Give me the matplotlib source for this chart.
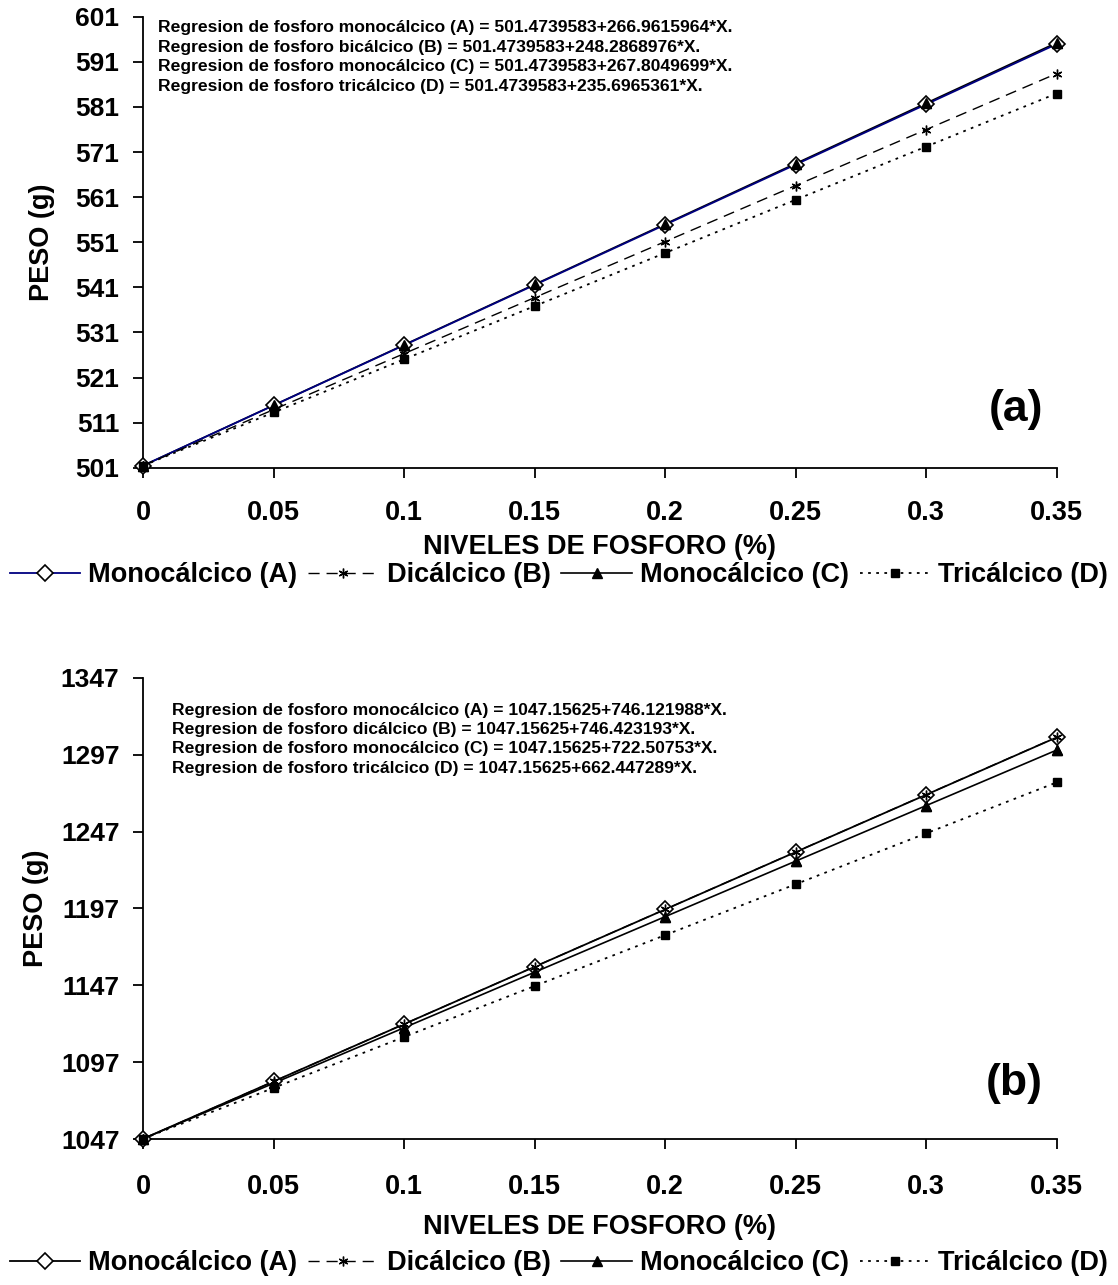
import matplotlib
matplotlib.use("Agg")
import matplotlib.pyplot as plt

plt.rcParams['font.family'] = ['Liberation Sans', 'DejaVu Sans']
plt.rcParams['font.weight'] = 'bold'

# niveles de fosforo (%)
niveles = [0, 0.05, 0.1, 0.15, 0.2, 0.25, 0.3, 0.35]
x_ticklabels = ["0", "0.05", "0.1", "0.15", "0.2", "0.25", "0.3", "0.35"]

# panel (a) - peso (g)
a_mono_A = [501.47, 514.82, 528.17, 541.52, 554.87, 568.21, 581.56, 594.91]
a_dical_B = [501.47, 513.89, 526.30, 538.72, 551.13, 563.55, 575.96, 588.38]
a_mono_C = [501.47, 514.86, 528.25, 541.64, 555.03, 568.43, 581.82, 595.21]
a_trical_D = [501.47, 513.26, 525.04, 536.83, 548.61, 560.40, 572.18, 583.97]
a_yticks = [501, 511, 521, 531, 541, 551, 561, 571, 581, 591, 601]
a_texts = [
    "Regresion de fosforo monocálcico (A) = 501.4739583+266.9615964*X.",
    "Regresion de fosforo bicálcico (B) = 501.4739583+248.2868976*X.",
    "Regresion de fosforo monocálcico (C) = 501.4739583+267.8049699*X.",
    "Regresion de fosforo tricálcico (D) = 501.4739583+235.6965361*X.",
]

# panel (b) - peso (g)
b_mono_A = [1047.16, 1084.46, 1121.77, 1159.07, 1196.38, 1233.69, 1270.99, 1308.30]
b_dical_B = [1047.16, 1084.48, 1121.80, 1159.12, 1196.44, 1233.76, 1271.08, 1308.40]
b_mono_C = [1047.16, 1083.28, 1119.41, 1155.53, 1191.66, 1227.78, 1263.91, 1300.03]
b_trical_D = [1047.16, 1080.28, 1113.40, 1146.52, 1179.65, 1212.77, 1245.89, 1279.01]
b_yticks = [1047, 1097, 1147, 1197, 1247, 1297, 1347]
b_texts = [
    "Regresion de fosforo monocálcico (A) = 1047.15625+746.121988*X.",
    "Regresion de fosforo dicálcico (B) = 1047.15625+746.423193*X.",
    "Regresion de fosforo monocálcico (C) = 1047.15625+722.50753*X.",
    "Regresion de fosforo tricálcico (D) = 1047.15625+662.447289*X.",
]

labels = ["Monocálcico (A)", "Dicálcico (B)", "Monocálcico (C)", "Tricálcico (D)"]

fig = plt.figure(figsize=(11.18, 12.85), dpi=100)
ax1 = fig.add_axes([0.128, 0.636, 0.817, 0.351])
ax2 = fig.add_axes([0.128, 0.1136, 0.817, 0.3588])


def draw_panel(ax, A, B, C, D, yticks, texts, tag, colA, legend_y,
               tickpad, labelpad, text_x, text_y0, text_dy, tag_y, ylab_x):
    # C line under A line, C markers drawn again on top
    ax.plot(niveles, A, color=colA, lw=1.3, marker='D', ms=8,
            mfc='white', mec='black', mew=1.2, label=labels[0], zorder=3, clip_on=False)
    ax.plot(niveles, B, color='black', lw=1.0, ls=(0, (8, 5)), marker=(6, 2, 0), ms=7,
            mec='black', label=labels[1], zorder=4, clip_on=False)
    ax.plot(niveles, C, color='black', lw=1.2, marker='^', ms=7,
            mfc='black', mec='black', label=labels[2], zorder=2, clip_on=False)
    ax.plot(niveles, C, ls='none', marker='^', ms=7,
            mfc='black', mec='black', zorder=5, clip_on=False)
    ax.plot(niveles, D, color='black', lw=1.3, ls=(0, (1.5, 3)), marker='s', ms=6,
            mfc='black', mec='black', label=labels[3], zorder=6, clip_on=False)

    ax.set_xlim(0, 0.35)
    ax.set_ylim(yticks[0], yticks[-1])
    ax.set_xticks(niveles)
    ax.set_xticklabels(x_ticklabels)
    ax.set_yticks(yticks)
    ax.spines['top'].set_visible(False)
    ax.spines['right'].set_visible(False)
    for s in ['left', 'bottom']:
        ax.spines[s].set_linewidth(1.3)
    ax.tick_params(axis='x', direction='out', length=7, width=1.3, pad=tickpad, labelsize=19.5)
    ax.tick_params(axis='y', direction='out', length=7, width=1.3, pad=10, labelsize=19)
    for t in ax.get_xticklabels() + ax.get_yticklabels():
        t.set_fontweight('bold')
    ax.set_xlabel("NIVELES DE FOSFORO (%)", fontsize=19.5, fontweight='bold', labelpad=labelpad)
    ax.set_ylabel("PESO (g)", fontsize=19.5, fontweight='bold')
    ax.yaxis.set_label_coords(ylab_x, 0.5)

    for i, t in enumerate(texts):
        ax.text(text_x, text_y0 - i * text_dy, t, transform=ax.transAxes, fontsize=12.6,
                fontweight='bold', va='center', ha='left')
    ax.text(0.985, tag_y, tag, transform=ax.transAxes, fontsize=32,
            fontweight='bold', ha='right', va='center')

    ax.legend(loc='center', bbox_to_anchor=(0.5, legend_y), bbox_transform=fig.transFigure,
              ncol=4, frameon=False, prop={'weight': 'bold', 'size': 19.5},
              handlelength=2.6, handletextpad=0.3, columnspacing=0.4)


draw_panel(ax1, a_mono_A, a_dical_B, a_mono_C, a_trical_D, a_yticks, a_texts,
           "(a)", '#000080', 1 - 575 / 1285,
           tickpad=16, labelpad=6, text_x=0.016, text_y0=0.975, text_dy=0.043,
           tag_y=0.129, ylab_x=-0.097)
draw_panel(ax2, b_mono_A, b_dical_B, b_mono_C, b_trical_D, b_yticks, b_texts,
           "(b)", 'black', 1 - 1263 / 1285,
           tickpad=18, labelpad=10, text_x=0.032, text_y0=0.930, text_dy=0.042,
           tag_y=0.121, ylab_x=-0.103)

fig.savefig("out.png", dpi=100)
